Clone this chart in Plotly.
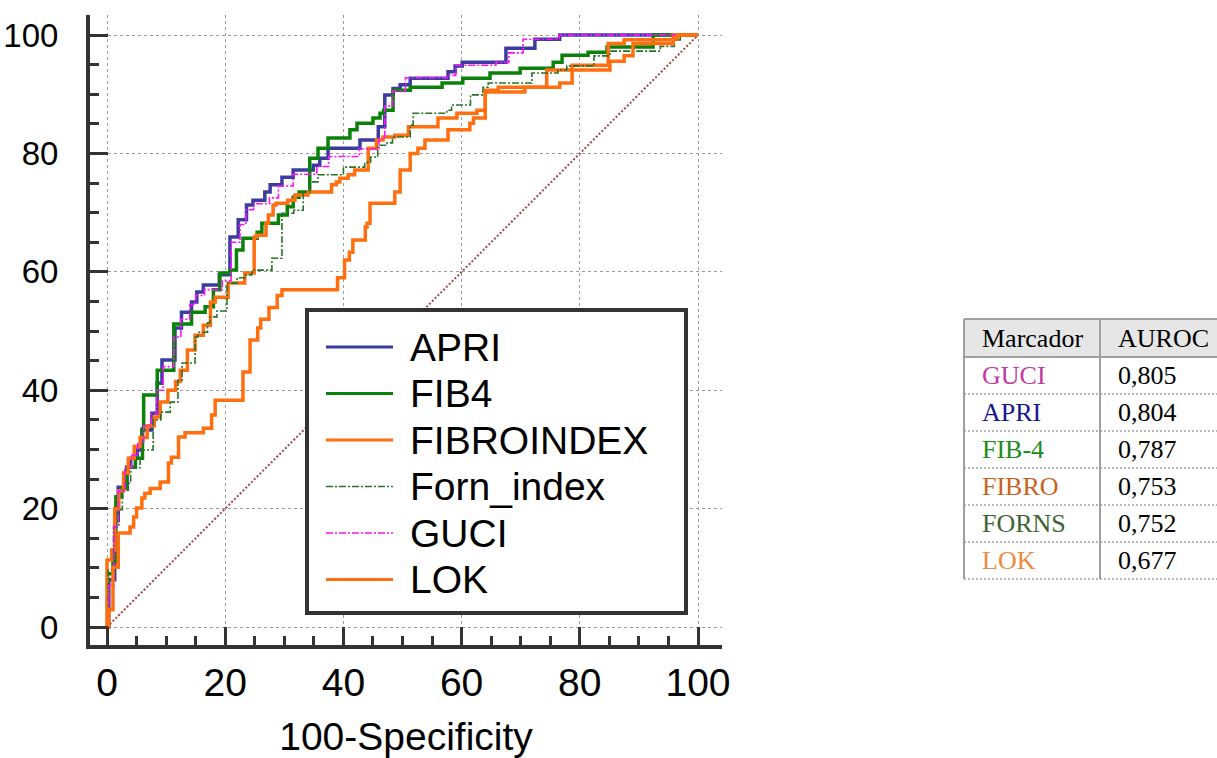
import plotly.graph_objects as go

# ---------------------------------------------------------------------------
# ROC curves: (100-Specificity, Sensitivity) at each step of the staircase
# ---------------------------------------------------------------------------
apri_fpr = [0, 0.3, 1.3, 1.9, 3.4, 4.0, 5.1, 5.9, 7.6, 8.5, 9.3, 11.5, 12.6, 14.3, 15.2, 16.3,
            19.0, 20.8, 22.2, 23.6, 24.7, 26.7, 27.6, 29.6, 31.5, 34.9, 36.0, 37.4, 42.8, 45.9,
            47.0, 48.4, 49.6, 51.3, 57.7, 58.9, 60.1, 67.5, 72.4, 76.6, 100]
apri_tpr = [0, 8, 18, 23.6, 27, 28.5, 29.9, 33.3, 36.1, 41.2, 45.1, 50.5, 53.2, 54.9, 56.6, 57.8,
            59.5, 65.9, 68.8, 71.3, 72.1, 73.5, 74.7, 76.0, 77.2, 78.0, 79.2, 80.9, 82.3, 84.5,
            89.9, 91.0, 91.6, 92.7, 93.8, 94.8, 95.4, 97.8, 99.3, 100, 100]

fib4_fpr = [0, 0.1, 1.0, 1.5, 2.5, 3.3, 4.8, 6.0, 6.2, 8.5, 11.3, 14.3, 16.6, 18.0, 19.1, 20.8,
            21.9, 23.0, 25.4, 26.2, 29.0, 30.5, 31.5, 32.5, 34.3, 35.7, 37.4, 41.1, 42.3, 45.0,
            46.2, 46.8, 48.4, 51.3, 56.7, 60.2, 64.8, 69.9, 75.5, 77.0, 81.4, 84.6, 92.4, 100]
fib4_tpr = [0, 9, 11, 22, 23.5, 27, 28.5, 33.5, 39.2, 43.4, 51.2, 53.2, 54.1, 57, 59.8, 60.3,
            63.7, 65.7, 66.7, 68.2, 69.6, 71, 72.6, 73.5, 79.2, 80.9, 82.6, 84, 85.1, 86,
            86.8, 87.3, 90.7, 91.2, 91.9, 92.7, 93.6, 94.4, 95.4, 96.6, 97.1, 98, 100, 100]

fibro_fpr = [0, 0, 0.8, 1.3, 2.0, 2.8, 3.6, 4.6, 5.6, 6.8, 8.0, 9.0, 10.3, 11.6, 12.4, 13.6,
             14.9, 16.3, 17.5, 18.3, 20.5, 23.3, 24.9, 25.3, 26.9, 27.3, 28.1, 28.6, 30.6, 31.8,
             34.0, 38.0, 38.8, 39.4, 40.8, 41.9, 44.2, 45.6, 46.7, 48.7, 51.0, 56.0, 59.2, 62.6,
             64.0, 66.2, 74.4, 78.7, 84.8, 87.5, 95.8, 100]
fibro_tpr = [0, 11.3, 13, 20, 23, 26, 28.5, 30.5, 32, 34, 35.5, 38, 40, 41.5, 43.4, 46.8,
             49.3, 51, 54.9, 55.7, 58.1, 59.8, 65.9, 66.2, 68.2, 69.6, 71.3, 71.6, 72.1, 73,
             73.5, 74.7, 75.2, 75.8, 76.4, 77.2, 80.9, 82.3, 82.8, 83.1, 84.5, 86, 86.8, 87.3,
             90.7, 91.2, 94.1, 94.9, 98.6, 99.2, 100, 100]

forn_fpr = [0, 0.2, 1.1, 2.0, 2.6, 3.6, 4.0, 5.6, 5.9, 7.8, 9.1, 10.7, 12.0, 12.7, 14.9, 15.4,
            17.0, 17.4, 18.6, 20.3, 22.0, 23.5, 24.5, 27.9, 29.6, 31.6, 33.2, 34.3, 35.7, 40.0,
            43.6, 44.6, 45.8, 47.4, 48.3, 51.3, 51.8, 57.5, 58.3, 61.5, 63.6, 64.5, 71.9, 76.3,
            77.8, 82.4, 85.1, 93.6, 96.0, 97.0, 100]
forn_tpr = [0, 9.6, 16.9, 19.8, 23.1, 24.3, 26.9, 28.7, 29.9, 35, 36.3, 38, 41.7, 44.6, 49, 49.8,
            51.4, 52.4, 53.4, 58.1, 59, 59.5, 60.3, 62.3, 69.9, 70.4, 73.5, 75.2, 76.4, 77.7,
            78.5, 79.4, 81.4, 81.8, 82.8, 84.8, 86.8, 87.3, 88.2, 89.9, 91.2, 91.9, 93.6, 94.1,
            94.8, 96.5, 97.3, 98.1, 99.2, 100, 100]

guci_fpr = [0, 0.3, 1.2, 1.9, 3.0, 4.2, 5.2, 6.2, 7.5, 8.4, 9.5, 11.3, 12.5, 14.0, 15.0, 16.5,
            19.5, 21.0, 22.5, 23.5, 24.8, 27.5, 29.0, 31.5, 35.5, 37.5, 42.7, 46.0, 47.0, 48.3,
            50.5, 57.5, 59.0, 65.8, 68.0, 70.4, 76.5, 100]
guci_tpr = [0, 7, 17, 23, 27, 29, 31, 34, 36, 40, 44, 49, 52, 54.5, 56, 57,
            58.5, 65, 68, 70.5, 71.5, 72.5, 74.5, 76.5, 77.8, 79.5, 80.8, 82.5, 88, 90.5,
            92.8, 93.2, 94.9, 95.4, 97, 99.3, 100, 100]

lok_fpr = [0, 0.3, 1.0, 1.9, 3.9, 4.5, 5.0, 5.9, 6.4, 7.3, 9.0, 10.4, 10.9, 12.1, 13.2, 16.3,
           17.7, 18.3, 23.0, 24.2, 25.5, 26.0, 27.4, 28.8, 29.6, 39.0, 40.2, 41.0, 41.6, 43.7,
           44.0, 44.5, 48.7, 49.6, 51.3, 52.6, 53.8, 57.7, 61.4, 62.0, 64.0, 70.7, 76.6, 78.7,
           85.1, 87.5, 89.0, 95.8, 96.5, 100]
lok_tpr = [0, 2.9, 10.1, 15.9, 16.9, 18.6, 20.1, 21.8, 22.6, 23.4, 24.5, 27.7, 28.7, 32.1, 32.8, 33.6,
           35.8, 38.3, 43.1, 48.5, 50.5, 52, 54, 56, 57, 59, 62, 63.3, 65.4, 67.6,
           68.2, 71.6, 73.5, 77.2, 80, 80.9, 82.3, 84, 85.1, 86, 90.4, 91.2, 91.9, 94.1,
           95.6, 96.5, 98.6, 99.3, 100, 100]

# chance line
ref_x = [0, 100]
ref_y = [0, 100]

# legend labels and summary table
legend_names = ["APRI", "FIB4", "FIBROINDEX", "Forn_index", "GUCI", "LOK"]
table_header = ["Marcador", "AUROC"]
table_markers = ["GUCI", "APRI", "FIB-4", "FIBRO", "FORNS", "LOK"]
table_auroc = [0.805, 0.804, 0.787, 0.753, 0.752, 0.677]

x_ticks = [0, 20, 40, 60, 80, 100]
y_ticks = [0, 20, 40, 60, 80, 100]

# ---------------------------------------------------------------------------
# styling
# ---------------------------------------------------------------------------
SANS = "Arial, Liberation Sans, sans-serif"
SERIF = "Times New Roman, Liberation Serif, serif"
AXIS = "#333333"
ORANGE = "#ff6f10"
DASHDOT = "7px,2px,2px,2px"

curve_styles = [
    dict(color="#3c3ca0", width=3.5, dash="solid"),   # APRI
    dict(color="#0a820a", width=3.5, dash="solid"),   # FIB4
    dict(color=ORANGE, width=3.5, dash="solid"),      # FIBROINDEX
    dict(color="#2a722a", width=1.6, dash=DASHDOT),   # Forn_index
    dict(color="#ff10ff", width=1.6, dash=DASHDOT),   # GUCI
    dict(color=ORANGE, width=3.5, dash="solid"),      # LOK
]
table_colors = ["#c13a9e", "#16168c", "#1c8c1c", "#c8641e", "#3f6432", "#f08a3c"]

W, H = 1217, 758
L, R, T, B = 90, 722, 15, 645     # plot-area edges in pixels


def fx(xp):
    """pixel column -> paper x"""
    return (xp - L) / (R - L)


def fy(yp):
    """pixel row -> paper y"""
    return (B - yp) / (B - T)


fig = go.Figure()

fig.add_trace(go.Scatter(x=ref_x, y=ref_y, mode="lines", hoverinfo="skip",
                         line=dict(color="#a04848", width=2, dash="2px,2px"),
                         showlegend=False))

series = [(apri_fpr, apri_tpr), (fib4_fpr, fib4_tpr), (fibro_fpr, fibro_tpr),
          (forn_fpr, forn_tpr), (guci_fpr, guci_tpr), (lok_fpr, lok_tpr)]
for (xs, ys), name, st in zip(series, legend_names, curve_styles):
    fig.add_trace(go.Scatter(x=xs, y=ys, name=name, mode="lines",
                             line=dict(color=st["color"], width=st["width"],
                                       dash=st["dash"], shape="hv"),
                             showlegend=False))

shapes = []
annotations = []

# ---- legend box ----
shapes.append(dict(type="rect", xref="paper", yref="paper",
                   x0=fx(307), x1=fx(686), y0=fy(613), y1=fy(310),
                   line=dict(color=AXIS, width=4), fillcolor="white", layer="above"))
row0, row_step = 347, 46.5
for i, (name, st) in enumerate(zip(legend_names, curve_styles)):
    yc = row0 + i * row_step
    shapes.append(dict(type="line", xref="paper", yref="paper",
                       x0=fx(326), x1=fx(393), y0=fy(yc), y1=fy(yc),
                       line=dict(color=st["color"], width=min(st["width"], 3),
                                 dash=st["dash"]), layer="above"))
    annotations.append(dict(xref="paper", yref="paper", x=fx(408), y=fy(yc),
                            xanchor="left", yanchor="middle", showarrow=False,
                            text=name, font=dict(family=SANS, size=39, color="black")))

# ---- summary table ----
tl, tr, tdiv = 964, 1217, 1100
t_top, t_head, row_h = 319, 357, 37
n_rows = len(table_markers)
t_bot = t_head + n_rows * row_h
shapes.append(dict(type="rect", xref="paper", yref="paper",
                   x0=fx(tl), x1=fx(tr), y0=fy(t_head), y1=fy(t_top),
                   line=dict(width=0), fillcolor="#e6e6e6", layer="above"))
grey = "#a0a0a0"
for x0, y0, x1, y1 in [(tl, t_top, tr, t_top), (tl, t_head, tr, t_head),
                       (tl, t_top, tl, t_bot), (tdiv, t_top, tdiv, t_bot)]:
    shapes.append(dict(type="line", xref="paper", yref="paper",
                       x0=fx(x0), x1=fx(x1), y0=fy(y0), y1=fy(y1),
                       line=dict(color=grey, width=2), layer="above"))
for r in range(1, n_rows + 1):
    yy = t_head + r * row_h
    shapes.append(dict(type="line", xref="paper", yref="paper",
                       x0=fx(tl), x1=fx(tr), y0=fy(yy), y1=fy(yy),
                       line=dict(color=grey, width=1.5, dash="2px,2px"), layer="above"))

for text, xl in zip(table_header, [980, 1116]):
    annotations.append(dict(xref="paper", yref="paper", x=fx(xl), y=fy((t_top + t_head) / 2),
                            xanchor="left", yanchor="middle", showarrow=False, text=text,
                            font=dict(family=SERIF, size=26, color="black")))
for i, (mk, val, col) in enumerate(zip(table_markers, table_auroc, table_colors)):
    yc = t_head + (i + 0.5) * row_h
    annotations.append(dict(xref="paper", yref="paper", x=fx(980), y=fy(yc),
                            xanchor="left", yanchor="middle", showarrow=False, text=mk,
                            font=dict(family=SERIF, size=26, color=col)))
    annotations.append(dict(xref="paper", yref="paper", x=fx(1116), y=fy(yc),
                            xanchor="left", yanchor="middle", showarrow=False,
                            text=f"{val:.3f}".replace(".", ","),
                            font=dict(family=SERIF, size=26, color="black")))

axis_common = dict(
    showline=True, linecolor=AXIS, linewidth=4, mirror=False,
    ticks="inside", ticklen=18, tickwidth=3, tickcolor=AXIS,
    minor=dict(dtick=5, tick0=0, ticks="inside", ticklen=9, tickwidth=3,
               tickcolor=AXIS, showgrid=False),
    showgrid=True, gridcolor="#9a9a9a", gridwidth=1, griddash="dot",
    zeroline=False, fixedrange=True, automargin=False,
)

fig.update_layout(
    width=W, height=H, autosize=False,
    margin=dict(l=L, r=W - R, t=T, b=H - B, pad=0),
    paper_bgcolor="white", plot_bgcolor="white",
    showlegend=False,
    xaxis=dict(axis_common, range=[-2.88, 104.06], tickvals=x_ticks,
               ticktext=[str(v) for v in x_ticks],
               tickfont=dict(family=SANS, size=39, color="black"),
               ticklabelstandoff=0,
               title=dict(text="100-Specificity", standoff=22,
                          font=dict(family=SANS, size=39, color="black"))),
    yaxis=dict(axis_common, range=[-3.04, 103.4], tickvals=y_ticks,
               ticktext=[str(v) for v in y_ticks],
               tickfont=dict(family=SANS, size=33, color="black"),
               ticklabelstandoff=21),
    shapes=shapes,
    annotations=annotations,
)

fig.write_html("out.html")
